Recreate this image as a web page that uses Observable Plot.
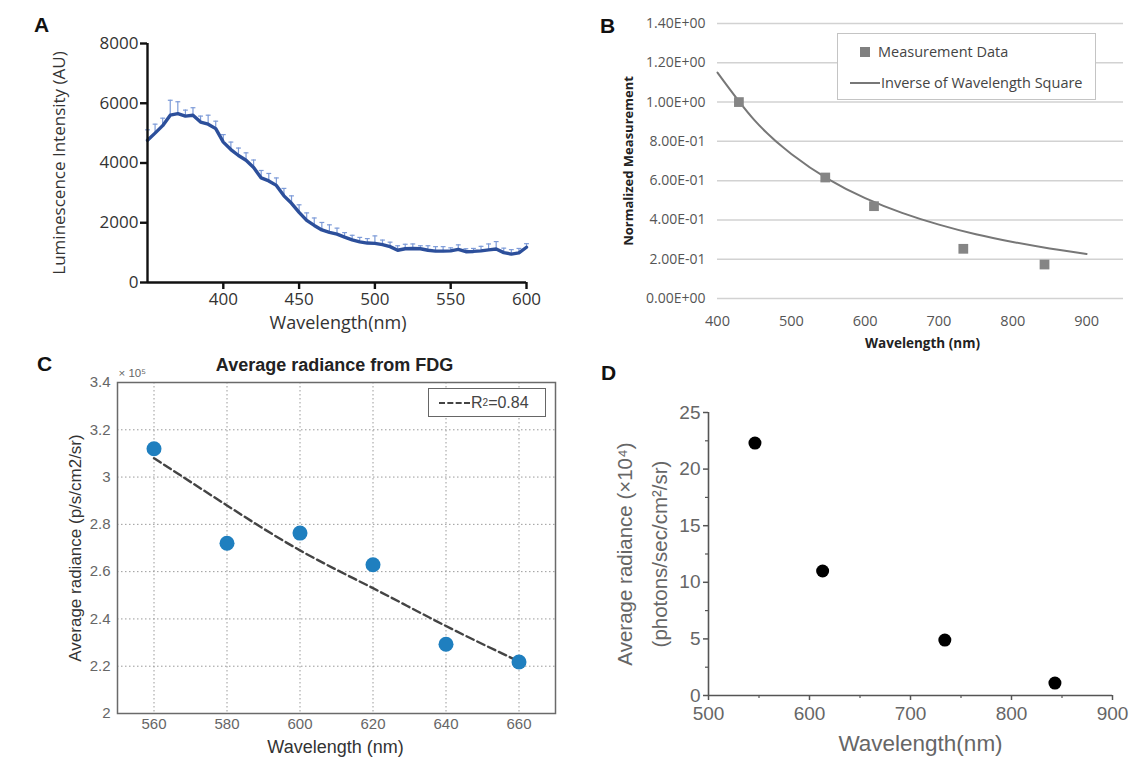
<!DOCTYPE html>
<html>
<head>
<meta charset="utf-8">
<script src="https://cdn.jsdelivr.net/npm/d3@7"></script>
<script src="https://cdn.jsdelivr.net/npm/@observablehq/plot@0.6"></script>
<style>
  html, body { margin: 0; padding: 0; background: #fff; }
  body { width: 1140px; height: 775px; position: relative; overflow: hidden; font-family: Arial, "Liberation Sans", sans-serif; }
  .panel { position: absolute; }
  .panel svg { overflow: visible; }
  .letter { position: absolute; font: bold 21px Arial, "Liberation Sans", sans-serif; color: #111; line-height: 1; }
  .legB { position: absolute; left: 837px; top: 33px; width: 257px; height: 65px; border: 1.5px solid #c4c4c4; background: #fff;
          font: 14.5px "Open Sans", "Liberation Sans", sans-serif; color: #444; }
  .legB .row { position: absolute; display: flex; align-items: center; white-space: nowrap; line-height: 1; }
  .legC { position: absolute; left: 428px; top: 388px; width: 116px; height: 27px; border: 1.5px solid #666; background: #fff;
          font: 16px "Liberation Sans", Arial, sans-serif; color: #444; display: flex; align-items: center; }
</style>
</head>
<body>
<div id="pA" class="panel" style="left:0px;top:0px"></div>
<div id="pB" class="panel" style="left:560px;top:0px"></div>
<div id="pC" class="panel" style="left:0px;top:335px"></div>
<div id="pD" class="panel" style="left:560px;top:355px"></div>

<div class="letter" style="left:34px;top:14px">A</div>
<div class="letter" style="left:600px;top:15px">B</div>
<div class="letter" style="left:37px;top:353px">C</div>
<div class="letter" style="left:601px;top:362px">D</div>

<div class="legB">
  <div class="row" style="top:11px;left:22px"><span style="display:inline-block;width:10px;height:10px;background:#808080;margin-right:8px"></span>Measurement Data</div>
  <div class="row" style="top:42px;left:12px"><span style="display:inline-block;width:30px;height:0;border-top:2px solid #777;margin-right:1px"></span>Inverse of Wavelength Square</div>
</div>
<div class="legC">
  <span style="display:inline-block;width:31px;height:0;border-top:2px dashed #444;margin-left:10px;margin-right:1px"></span>R<sup style="font-size:10px">2</sup>=0.84
</div>

<script>
// ---------------- Panel A: luminescence spectrum ----------------
const aWave = [350,355,360,365,370,375,380,385,390,395,400,405,410,415,420,425,430,435,440,445,450,455,460,465,470,475,480,485,490,495,500,505,510,515,520,525,530,535,540,545,550,555,560,565,570,575,580,585,590,595,600];
const aValue = [4760,5000,5250,5600,5650,5570,5600,5370,5300,5150,4700,4450,4250,4090,3850,3500,3400,3250,2900,2650,2350,2080,1910,1760,1680,1620,1520,1430,1360,1320,1310,1270,1200,1080,1130,1140,1130,1080,1050,1050,1060,1110,1030,1040,1060,1090,1120,1000,950,990,1180];
const aErr = [350,300,250,500,400,200,250,200,300,250,250,250,250,250,250,250,250,250,250,250,250,250,250,250,250,200,150,150,150,150,250,150,150,150,150,150,100,150,150,150,100,150,100,100,150,200,250,150,150,150,120];
const aXTicks = [400,450,500,550,600];
const aYTicks = [0,2000,4000,6000,8000];

// ---------------- Panel B: normalized measurement ----------------
const bWave = [429,546,612,733,843];
const bMeas = [1.00,0.616,0.470,0.253,0.173];
const bCurveWave = [400,450,500,550,600,650,700,750,800,850,900];
const bCurveVal = [1.15,0.908,0.736,0.608,0.511,0.436,0.376,0.327,0.288,0.255,0.227];
const bXTicks = [400,500,600,700,800,900];
const bYTicks = [0,0.2,0.4,0.6,0.8,1.0,1.2,1.4];
const bYTickLabels = ["0.00E+00","2.00E-01","4.00E-01","6.00E-01","8.00E-01","1.00E+00","1.20E+00","1.40E+00"];

// ---------------- Panel C: average radiance from FDG ----------------
const cWave = [560,580,600,620,640,660];
const cRad = [3.12,2.72,2.763,2.629,2.293,2.218];
const cFit = [3.08,2.88,2.69,2.53,2.37,2.22];
const cXTicks = [560,580,600,620,640,660];
const cYTicks = [2,2.2,2.4,2.6,2.8,3,3.2,3.4];
const cYTickLabels = ["2","2.2","2.4","2.6","2.8","3","3.2","3.4"];

// ---------------- Panel D: average radiance ----------------
const dWave = [546,613,734,843];
const dRad = [22.3,11.0,4.9,1.1];
const dXTicks = [500,600,700,800,900];
const dXMinor = [550,650,750,850];
const dYTicks = [0,5,10,15,20,25];
const dYMinor = [2.5,7.5,12.5,17.5,22.5];

// ---------- build tables ----------
const aData = aWave.map((w,i) => ({w, v: aValue[i], top: aValue[i] + aErr[i]}));
const bData = bWave.map((w,i) => ({w, v: bMeas[i]}));
const bCurve = bCurveWave.map((w,i) => ({w, v: bCurveVal[i]}));
const cData = cWave.map((w,i) => ({w, v: cRad[i], fit: cFit[i]}));
const dData = dWave.map((w,i) => ({w, v: dRad[i]}));

const label = (s, o) => Plot.text([s], {text: d => d, textAnchor: "middle", lineAnchor: "middle", ...o});

// Panel A
const plotA = Plot.plot({
  width: 560, height: 335,
  marginLeft: 147, marginRight: 34, marginTop: 43, marginBottom: 53,
  x: {domain: [350, 600]},
  y: {domain: [0, 8000]},
  style: {fontFamily: '"Open Sans", "Liberation Sans", sans-serif', fontSize: "17px", color: "#333", background: "transparent"},
  marks: [
    Plot.ruleX(aData, {x: "w", y1: "v", y2: "top", stroke: "#7d9bd8", strokeWidth: 1.2}),
    Plot.link(aData, {x1: d => d.w - 1.6, x2: d => d.w + 1.6, y1: "top", y2: "top", stroke: "#7d9bd8", strokeWidth: 1.2}),
    Plot.line(aData, {x: "w", y: "v", stroke: "#2c4f9b", strokeWidth: 3.4}),
    Plot.ruleY([0], {stroke: "#111", strokeWidth: 2.4}),
    Plot.ruleX([350], {stroke: "#111", strokeWidth: 2.4}),
    Plot.axisX(aXTicks, {tickSize: 7, tickPadding: 3, strokeWidth: 2.4, stroke: "#111", tickFormat: d => String(d), label: null, fill: "#333"}),
    Plot.axisY(aYTicks, {tickSize: 7, tickPadding: 2, strokeWidth: 2.4, stroke: "#111", tickFormat: d => String(d), label: null, fill: "#333"}),
    label("Luminescence Intensity (AU)", {frameAnchor: "left", dx: -88, rotate: -90, fontSize: 17, fill: "#333"}),
    label("Wavelength(nm)", {frameAnchor: "bottom", dy: 41, dx: 1, fontSize: 18, fill: "#333"})
  ]
});
document.getElementById("pA").append(plotA);

// Panel B
const plotB = Plot.plot({
  width: 580, height: 355,
  marginLeft: 157, marginRight: 17, marginTop: 23, marginBottom: 57,
  x: {domain: [400, 950]},
  y: {domain: [0, 1.4]},
  style: {fontFamily: '"Open Sans", "Liberation Sans", sans-serif', fontSize: "14px", color: "#555", background: "transparent"},
  marks: [
    Plot.gridY(bYTicks, {stroke: "#d2d2d2", strokeOpacity: 1, strokeWidth: 1.5}),
    Plot.axisY(bYTicks, {tickSize: 0, tickPadding: 12, tickFormat: d => bYTickLabels[bYTicks.indexOf(d)], label: null, fill: "#555"}),
    Plot.axisX(bXTicks, {tickSize: 0, tickPadding: 17, tickFormat: d => String(d), label: null, fill: "#555", fontSize: 14.5}),
    Plot.line(bCurve, {x: "w", y: "v", stroke: "#777", strokeWidth: 2, curve: "natural"}),
    Plot.dot(bData, {x: "w", y: "v", symbol: "square", fill: "#858585", r: 5.5}),
    label("Normalized Measurement", {frameAnchor: "left", dx: -89, rotate: -90, fontSize: 13, fontWeight: "bold", fill: "#222"}),
    label("Wavelength (nm)", {frameAnchor: "bottom", dy: 45, dx: 2, fontSize: 13.5, fontWeight: "bold", fill: "#222"})
  ]
});
document.getElementById("pB").append(plotB);

// Panel C
const plotC = Plot.plot({
  width: 570, height: 440,
  marginLeft: 117, marginRight: 15, marginTop: 47, marginBottom: 62,
  x: {domain: [550, 670]},
  y: {domain: [2, 3.4]},
  style: {fontFamily: '"Liberation Sans", Arial, sans-serif', fontSize: "15px", color: "#666", background: "transparent"},
  marks: [
    Plot.gridX(cXTicks, {stroke: "#9a9a9a", strokeOpacity: 1, strokeDasharray: "1.5,2.5"}),
    Plot.gridY(cYTicks.slice(1, -1), {stroke: "#9a9a9a", strokeOpacity: 1, strokeDasharray: "1.5,2.5"}),
    Plot.frame({stroke: "#6a6a6a", strokeWidth: 1.5}),
    Plot.axisX(cXTicks, {tickSize: 0, tickPadding: 5, tickFormat: d => String(d), label: null, fill: "#666"}),
    Plot.axisY(cYTicks, {tickSize: 0, tickPadding: 7, tickFormat: d => cYTickLabels[cYTicks.indexOf(d)], label: null, fill: "#666"}),
    Plot.line(cData, {x: "w", y: "fit", stroke: "#444", strokeWidth: 2.4, strokeDasharray: "8,4", curve: "natural"}),
    Plot.dot(cData, {x: "w", y: "v", fill: "#1f7fbf", r: 7.5}),
    label("Average radiance from FDG", {frameAnchor: "top", dy: -17, dx: -2, fontSize: 18, fontWeight: "bold", fill: "#222"}),
    label("× 10⁵", {frameAnchor: "top-left", dx: 1, dy: -9, textAnchor: "start", fontSize: 11.5, fill: "#666"}),
    label("Average radiance (p/s/cm2/sr)", {frameAnchor: "left", dx: -42, rotate: -90, fontSize: 17, fill: "#333"}),
    label("Wavelength (nm)", {frameAnchor: "bottom", dy: 34, dx: -1, fontSize: 18, fill: "#333"})
  ]
});
document.getElementById("pC").append(plotC);

// Panel D
const plotD = Plot.plot({
  width: 580, height: 420,
  marginLeft: 148, marginRight: 28, marginTop: 57, marginBottom: 80,
  x: {domain: [500, 900]},
  y: {domain: [0, 25]},
  style: {fontFamily: 'Arial, "Liberation Sans", sans-serif', fontSize: "19px", color: "#666", background: "transparent"},
  marks: [
    Plot.ruleY([0], {stroke: "#555", strokeWidth: 1.6}),
    Plot.ruleX([500], {stroke: "#555", strokeWidth: 1.6}),
    Plot.axisX(dXTicks, {tickSize: 5, tickPadding: 6, stroke: "#555", strokeWidth: 1.5, tickFormat: d => String(d), label: null, fill: "#666"}),
    Plot.axisX(dXMinor, {tickSize: 3, stroke: "#555", strokeWidth: 1.2, tickFormat: () => "", label: null}),
    Plot.axisY(dYTicks, {tickSize: 5, tickPadding: 3, stroke: "#555", strokeWidth: 1.5, tickFormat: d => String(d), label: null, fill: "#666"}),
    Plot.axisY(dYMinor, {tickSize: 3, stroke: "#555", strokeWidth: 1.2, tickFormat: () => "", label: null}),
    Plot.dot(dData, {x: "w", y: "v", fill: "#000", r: 6.5}),
    label("Average radiance (×10⁴)\n(photons/sec/cm²/sr)", {frameAnchor: "left", dx: -70, rotate: -90, fontSize: 20.5, lineHeight: 1.7, fill: "#666"}),
    label("Wavelength(nm)", {frameAnchor: "bottom", dy: 48, dx: 10, fontSize: 22.5, fill: "#666"})
  ]
});
document.getElementById("pD").append(plotD);
</script>
</body>
</html>
